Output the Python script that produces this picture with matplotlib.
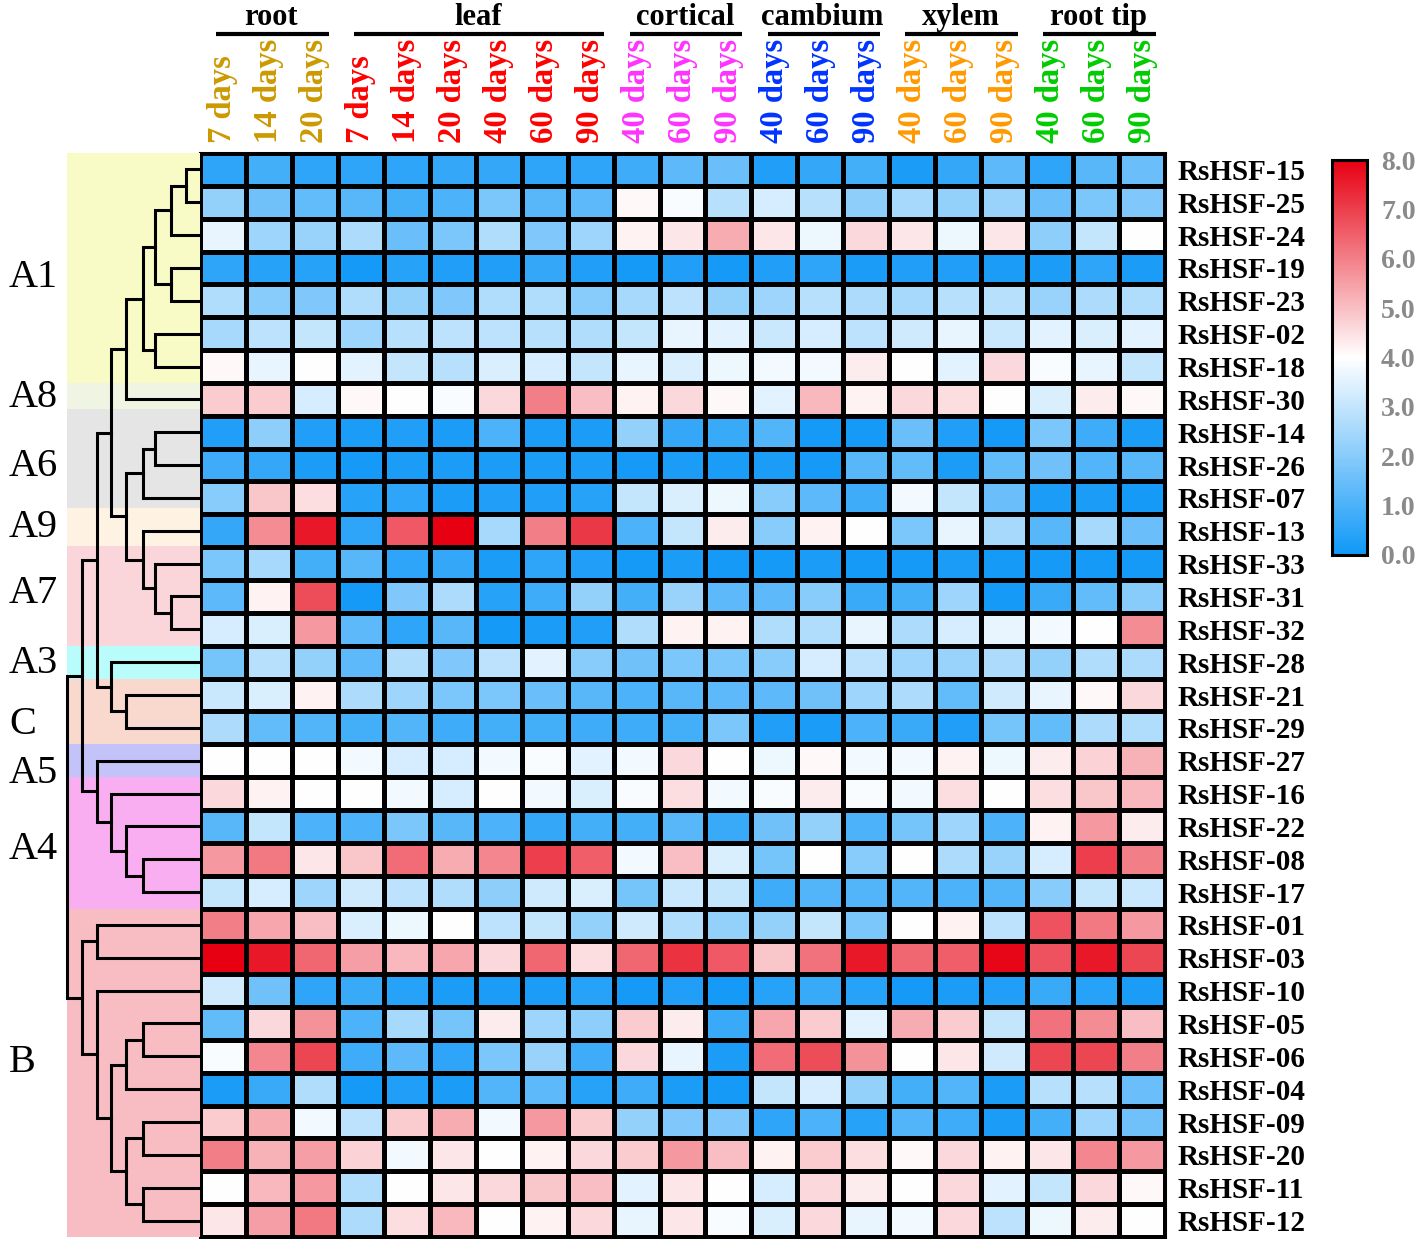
import numpy as np
import matplotlib
matplotlib.use("Agg")
import matplotlib.pyplot as plt
from matplotlib.colors import LinearSegmentedColormap
import matplotlib.transforms as mtransforms

plt.rcParams['font.family'] = ['Liberation Serif', 'DejaVu Serif']

# ---- data ----
genes = ["RsHSF-15", "RsHSF-25", "RsHSF-24", "RsHSF-19", "RsHSF-23", "RsHSF-02",
         "RsHSF-18", "RsHSF-30", "RsHSF-14", "RsHSF-26", "RsHSF-07", "RsHSF-13",
         "RsHSF-33", "RsHSF-31", "RsHSF-32", "RsHSF-28", "RsHSF-21", "RsHSF-29",
         "RsHSF-27", "RsHSF-16", "RsHSF-22", "RsHSF-08", "RsHSF-17", "RsHSF-01",
         "RsHSF-03", "RsHSF-10", "RsHSF-05", "RsHSF-06", "RsHSF-04", "RsHSF-09",
         "RsHSF-20", "RsHSF-11", "RsHSF-12"]

groups = ["root", "leaf", "cortical", "cambium", "xylem", "root tip"]
group_sizes = [3, 6, 3, 3, 3, 3]
group_colors = ["#CC9900", "#FF0000", "#FF33FF", "#0033FF", "#FF9900", "#00CC00"]
col_labels = ["7 days", "14 days", "20 days",
              "7 days", "14 days", "20 days", "40 days", "60 days", "90 days",
              "40 days", "60 days", "90 days",
              "40 days", "60 days", "90 days",
              "40 days", "60 days", "90 days",
              "40 days", "60 days", "90 days"]

values = np.array([
    [0.5, 0.9, 0.5, 0.5, 0.5, 0.6, 0.6, 0.5, 0.5, 0.8, 1.3, 1.5, 0.3, 0.6, 0.9, 0.2, 0.6, 1.3, 0.5, 1.2, 1.5],
    [2.2, 1.6, 1.4, 1.2, 0.9, 1.0, 1.8, 1.2, 1.3, 4.1, 3.9, 2.8, 3.3, 2.8, 2.1, 2.5, 2.2, 2.3, 1.5, 1.8, 1.9],
    [3.6, 2.4, 2.3, 2.6, 1.5, 1.8, 2.7, 1.9, 2.4, 4.2, 4.4, 5.3, 4.4, 3.7, 4.6, 4.4, 3.7, 4.4, 2.1, 3.0, 4.0],
    [0.5, 0.4, 0.4, 0.1, 0.4, 0.3, 0.3, 0.6, 0.3, 0.1, 0.3, 0.1, 0.3, 0.5, 0.2, 0.3, 0.3, 0.2, 0.2, 0.5, 0.2],
    [2.7, 2.0, 1.9, 2.7, 2.2, 1.9, 2.7, 2.7, 2.0, 2.5, 2.9, 2.2, 2.4, 2.8, 2.6, 2.5, 2.8, 2.8, 2.3, 2.6, 2.7],
    [2.5, 2.9, 3.0, 2.4, 2.8, 2.9, 2.9, 2.8, 2.7, 3.0, 3.6, 3.5, 3.1, 3.3, 2.9, 3.2, 3.6, 3.1, 3.5, 3.4, 3.5],
    [4.1, 3.6, 4.0, 3.5, 3.0, 2.8, 3.4, 3.3, 3.0, 3.6, 3.4, 3.7, 3.8, 3.8, 4.3, 4.0, 3.5, 4.6, 3.9, 3.6, 3.0],
    [4.8, 4.8, 3.3, 4.1, 4.0, 3.9, 4.6, 6.0, 5.0, 4.2, 4.6, 4.1, 3.5, 5.1, 4.2, 4.6, 4.5, 4.0, 3.4, 4.3, 4.1],
    [0.3, 2.1, 0.3, 0.2, 0.3, 0.2, 1.0, 0.2, 0.2, 2.2, 0.6, 0.7, 1.1, 0.1, 0.1, 1.5, 0.3, 0.1, 1.8, 0.8, 0.2],
    [0.8, 0.6, 0.2, 0.1, 0.2, 0.2, 0.2, 0.2, 0.2, 0.1, 0.2, 0.2, 0.2, 0.1, 1.2, 1.4, 0.2, 1.4, 1.6, 1.1, 1.2],
    [2.0, 4.9, 4.5, 0.4, 0.5, 0.2, 0.3, 0.3, 0.4, 3.0, 3.4, 3.7, 2.0, 1.3, 0.8, 3.8, 3.0, 1.5, 0.2, 0.2, 0.1],
    [0.6, 5.8, 7.6, 0.5, 6.6, 8.0, 2.5, 6.0, 7.1, 1.0, 3.0, 4.3, 2.0, 4.2, 4.0, 1.8, 3.6, 2.5, 1.2, 2.5, 1.5],
    [1.8, 2.5, 0.9, 1.2, 0.5, 0.6, 0.2, 0.5, 0.3, 0.1, 0.2, 0.1, 0.1, 0.2, 0.1, 0.1, 0.2, 0.1, 0.1, 0.1, 0.1],
    [1.3, 4.2, 6.8, 0.1, 1.9, 2.6, 0.4, 0.8, 2.2, 0.9, 2.3, 1.3, 1.3, 2.0, 0.7, 0.9, 2.4, 0.1, 0.7, 1.4, 2.0],
    [3.3, 3.4, 5.6, 1.3, 0.5, 1.2, 0.1, 0.2, 0.3, 2.7, 4.2, 4.2, 2.7, 2.7, 3.6, 2.6, 3.3, 3.6, 3.8, 4.0, 5.8],
    [1.7, 2.8, 2.2, 1.3, 2.7, 1.9, 2.9, 3.5, 2.0, 1.6, 1.8, 1.8, 2.0, 3.3, 2.9, 2.4, 2.3, 2.6, 2.2, 2.7, 2.6],
    [3.1, 3.4, 4.2, 2.6, 2.4, 1.8, 1.8, 1.5, 1.2, 1.0, 1.2, 1.3, 1.3, 1.6, 2.4, 2.6, 1.4, 3.2, 3.6, 4.1, 4.6],
    [2.6, 1.4, 1.1, 0.9, 1.1, 0.8, 0.9, 0.9, 0.8, 0.8, 0.9, 1.8, 0.3, 0.2, 1.0, 0.7, 0.3, 1.7, 1.4, 2.6, 2.7],
    [4.0, 4.0, 4.0, 3.8, 3.3, 3.3, 3.8, 3.9, 3.5, 3.8, 4.6, 4.0, 3.7, 4.1, 3.8, 3.8, 4.2, 3.7, 4.3, 4.7, 5.2],
    [4.6, 4.2, 4.0, 4.0, 3.8, 3.3, 4.0, 3.8, 3.4, 3.9, 4.5, 3.8, 3.9, 4.3, 3.9, 3.8, 4.5, 4.0, 4.5, 4.9, 5.1],
    [1.2, 3.0, 1.0, 1.0, 1.8, 1.2, 1.0, 0.6, 0.9, 0.9, 1.2, 0.7, 1.6, 2.2, 1.0, 1.7, 2.4, 1.0, 4.2, 5.6, 4.3],
    [5.6, 6.1, 4.4, 4.9, 6.3, 5.3, 5.9, 7.0, 6.5, 3.8, 5.0, 3.4, 1.7, 4.0, 2.0, 4.0, 2.6, 2.3, 3.3, 7.0, 6.0],
    [3.0, 3.3, 2.4, 3.2, 2.9, 2.7, 2.1, 3.2, 3.4, 1.7, 3.1, 3.0, 0.8, 1.1, 1.1, 1.1, 1.0, 1.1, 2.0, 3.0, 3.1],
    [6.0, 5.4, 5.0, 3.4, 3.7, 4.0, 2.9, 3.0, 2.2, 3.2, 2.7, 2.2, 2.2, 3.0, 1.8, 4.0, 4.2, 2.9, 6.7, 6.1, 5.6],
    [8.0, 7.6, 6.4, 5.5, 5.1, 5.4, 4.6, 6.4, 4.5, 6.4, 7.2, 6.6, 4.9, 6.2, 7.6, 6.4, 6.5, 7.9, 6.7, 7.6, 6.9],
    [3.2, 1.6, 0.5, 0.7, 0.4, 0.2, 0.2, 0.2, 0.4, 0.1, 0.3, 0.1, 0.4, 0.7, 0.4, 0.1, 0.2, 0.3, 0.7, 0.4, 0.2],
    [1.4, 4.6, 5.7, 1.0, 2.5, 1.7, 4.3, 2.4, 2.1, 4.8, 4.3, 0.7, 5.4, 4.8, 3.5, 5.3, 4.8, 3.0, 6.2, 5.8, 5.0],
    [3.9, 5.9, 6.9, 0.8, 1.3, 0.5, 1.8, 2.3, 0.8, 4.6, 3.6, 0.2, 6.3, 6.8, 5.7, 4.0, 4.4, 3.2, 6.9, 6.9, 6.0],
    [0.2, 0.7, 2.7, 0.1, 0.3, 0.2, 1.1, 1.3, 0.4, 0.8, 0.2, 0.1, 3.0, 3.3, 2.2, 0.9, 1.1, 0.2, 2.8, 2.8, 1.5],
    [4.8, 5.3, 3.8, 2.9, 4.8, 5.3, 3.8, 5.6, 4.8, 2.2, 1.9, 1.9, 0.5, 1.0, 0.4, 1.1, 0.8, 0.2, 0.9, 2.4, 1.6],
    [6.0, 5.2, 5.5, 4.7, 3.8, 4.4, 4.0, 4.2, 4.6, 4.8, 5.6, 5.0, 4.2, 4.8, 4.5, 4.1, 4.6, 4.2, 4.4, 5.9, 5.6],
    [4.0, 5.1, 5.6, 2.7, 4.0, 4.4, 4.6, 4.9, 5.0, 3.5, 4.4, 4.0, 3.3, 4.6, 4.3, 4.0, 4.6, 3.5, 3.0, 4.6, 4.1],
    [4.4, 5.5, 6.1, 2.6, 4.5, 5.1, 4.0, 4.2, 4.6, 3.6, 4.4, 3.9, 3.4, 4.6, 3.6, 3.8, 4.6, 2.9, 3.7, 4.3, 4.0],
])

# dendrogram merges: (child a, child b, height); ids >= 33 refer to earlier merges
merges = [
    (0, 1, 42), (33, 2, 88), (3, 4, 88), (34, 35, 135), (5, 6, 135),
    (36, 37, 172), (38, 7, 222), (8, 9, 135), (40, 10, 172), (13, 14, 88),
    (12, 42, 135), (11, 43, 172), (41, 44, 222), (39, 45, 267), (16, 17, 222),
    (15, 47, 267), (46, 48, 310), (21, 22, 172), (20, 50, 222), (19, 51, 267),
    (18, 52, 310), (49, 53, 355), (23, 24, 310), (26, 27, 172), (56, 28, 222),
    (29, 30, 172), (31, 32, 172), (58, 59, 222), (57, 60, 267), (25, 61, 310),
    (55, 62, 355), (54, 63, 400),
]

# clade bands and labels
clades = ["A1", "A8", "A6", "A9", "A7", "A3", "C", "A5", "A4", "B"]
clade_edges = [0, 7, 7.78, 10.8, 11.95, 15, 16, 18, 19, 23, 33]
clade_colors = ["#F8FBC5", "#F0F4E3", "#E5E5E5", "#FEF2E2", "#FAD6DB",
                "#B9FCFC", "#F9D8CD", "#C3C3FA", "#F8AEF1", "#F7BDC2"]
clade_label_rows = [3.8, 7.45, 9.55, 11.4, 13.4, 15.55, 17.4, 18.9, 21.2, 27.7]

# ---- figure ----
W, H = 1418, 1239
fig = plt.figure(figsize=(W / 100, H / 100), dpi=100)

def fax(x0, y0, x1, y1):
    return fig.add_axes([x0 / W, 1 - y1 / H, (x1 - x0) / W, (y1 - y0) / H])

cmap = LinearSegmentedColormap.from_list(
    "bwr2", [(0.0, "#1098F7"), (0.5, "#FFFFFF"), (1.0, "#E60012")])

n_rows, n_cols = values.shape
ax = fax(200, 153, 1165, 1237)
mesh = ax.pcolormesh(np.arange(n_cols + 1), np.arange(n_rows + 1), values,
                     cmap=cmap, vmin=0, vmax=8, edgecolors="black", linewidth=2.2)
ax.set_xlim(0, n_cols)
ax.set_ylim(n_rows, 0)
for s in ax.spines.values():
    s.set_linewidth(2.2)

ax.yaxis.tick_right()
ax.set_yticks(np.arange(n_rows) + 0.5)
ax.set_yticklabels(genes, fontsize=21, fontweight="bold")
ax.tick_params(axis="y", length=0, pad=9)

ax.xaxis.tick_top()
ax.set_xticks(np.arange(n_cols) + 0.5)
ax.set_xticklabels(col_labels, rotation=90, fontsize=23.5, fontweight="bold")
ax.tick_params(axis="x", length=0, pad=7)
col_colors = np.repeat(group_colors, group_sizes)
for lab, c in zip(ax.get_xticklabels(), col_colors):
    lab.set_color(c)

# group headers
trans = mtransforms.blended_transform_factory(ax.transData, ax.transAxes)
start = 0
for g, n in zip(groups, group_sizes):
    ax.plot([start + 0.35, start + n - 0.2], [1.1098, 1.1098], color="black",
            lw=3, transform=trans, clip_on=False, solid_capstyle="butt")
    ax.text(start + n / 2 + 0.05, 1.118, g, transform=trans, ha="center",
            va="baseline", fontsize=22, fontweight="bold")
    start += n

# ---- dendrogram ----
axd = fax(67, 153, 200, 1237)
axd.set_xlim(400, 0)
axd.set_ylim(n_rows, 0)
axd.axis("off")
for lo, hi, c in zip(clade_edges[:-1], clade_edges[1:], clade_colors):
    axd.axhspan(lo, hi, color=c, lw=0, zorder=0)

pos = {i: (0.0, i + 0.5) for i in range(n_rows)}
for k, (a, b, h) in enumerate(merges):
    ha, ya = pos[a]
    hb, yb = pos[b]
    axd.plot([ha, h, h, hb], [ya, ya, yb, yb], color="black", lw=2.2,
             clip_on=False, solid_joinstyle="miter", zorder=2)
    pos[n_rows + k] = (h, (ya + yb) / 2)

transd = mtransforms.blended_transform_factory(fig.transFigure, axd.transData)
for lab, r in zip(clades, clade_label_rows):
    fig.text(9 / W, r, lab, transform=transd, ha="left", va="center", fontsize=29)

# ---- colorbar ----
cax = fax(1332, 160, 1367, 555)
cb = fig.colorbar(mesh, cax=cax, ticks=np.arange(0, 9))
cb.ax.set_yticklabels([f"{t:.1f}" for t in range(9)], fontsize=20,
                      fontweight="bold", color="#8A8A8A")
cb.ax.tick_params(length=0, pad=10)
cb.outline.set_linewidth(2.2)

fig.savefig("out.png", dpi=100)
